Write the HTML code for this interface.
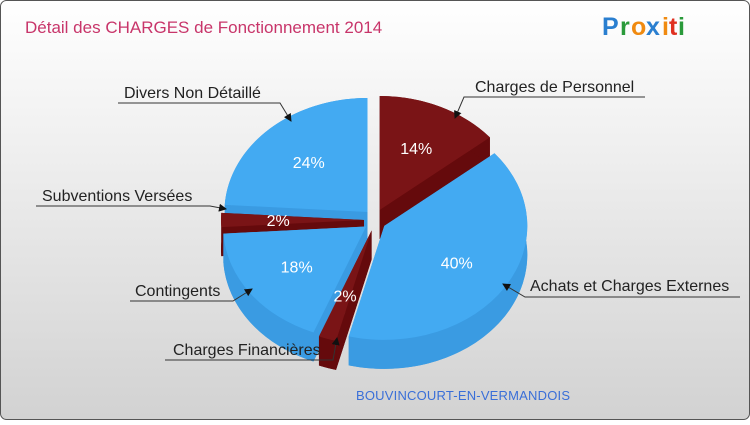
<!DOCTYPE html>
<html><head><meta charset="utf-8"><style>
body{margin:0;width:750px;height:420px;overflow:hidden;font-family:"Liberation Sans",sans-serif}
</style></head><body>
<svg id="c" width="750" height="420" viewBox="0 0 750 420">
<defs><linearGradient id="bg" x1="0" y1="0" x2="0" y2="1"><stop offset="0" stop-color="#ffffff"/><stop offset="1" stop-color="#d2d2d2"/></linearGradient>
<marker id="ar" markerWidth="8" markerHeight="8" refX="7" refY="4" orient="auto"><path d="M0,0 L8,4 L0,8z" fill="#111"/></marker></defs>
<rect x="0.5" y="0.5" width="749" height="419" rx="6" fill="url(#bg)" stroke="#555"/>
<text x="25" y="33" font-size="17" fill="#c8356a">Détail des CHARGES de Fonctionnement 2014</text>
<g font-size="25" font-weight="bold"><text x="602" y="35" fill="#2a7fd0">P</text><text x="620" y="35" fill="#2a9a3a">r</text><text x="631" y="35" fill="#f08a10">o</text><text x="646" y="35" fill="#2a7fd0">x</text><text x="662" y="35" fill="#f08a10">i</text><text x="669" y="35" fill="#e03020">t</text><text x="678" y="35" fill="#2a9a3a">i</text></g>
<g id="pie"></g><g id="lab"></g>
<text x="356" y="400" font-size="13" fill="#3a6fd8" textLength="214">BOUVINCOURT-EN-VERMANDOIS</text>
</svg>
<script>
const categories=["Charges de Personnel","Achats et Charges Externes","Charges Financières","Contingents","Subventions Versées","Divers Non Détaillé"];
const values=[14,40,2,18,2,24];
const pctLabels=["14%","40%","2%","18%","2%","24%"];
const NS="http://www.w3.org/2000/svg";
const cx=375,cy=220,rx=143,ry=114,depth=29,explode=11,offset=0;
const pie=document.getElementById('pie'),lab=document.getElementById('lab');
const total=values.reduce((a,b)=>a+b,0);
function el(t,a,p){const e=document.createElementNS(NS,t);for(const k in a)e.setAttribute(k,a[k]);p.appendChild(e);return e;}
function pt(ox,oy,a,r){return [ox+rx*r*Math.sin(a),oy-ry*r*Math.cos(a)];}
let start=offset;const slices=[];
values.forEach((v,i)=>{const sweep=v/total*2*Math.PI;const mid=start+sweep/2;slices.push({i,a0:start,a1:start+sweep,mid});start+=sweep;});
const order=slices.slice().sort((a,b)=>-Math.cos(a.mid)+Math.cos(b.mid));
order.forEach(s=>{
 const isRed=[0,2,4].includes(s.i);
 const top=isRed?"#7a1416":"#43aaf2",side=isRed?"#650a0c":"#3a9be2";
 const ox=cx+explode*Math.sin(s.mid),oy=cy-explode*Math.cos(s.mid);
 const g=el('g',{},pie);
 
 
 function arcPath(dy){const p0=pt(ox,oy+dy,s.a0,1),p1=pt(ox,oy+dy,s.a1,1);const lg=(s.a1-s.a0)>Math.PI?1:0;
  return `M${ox},${oy+dy} L${p0[0]},${p0[1]} A${rx},${ry} 0 ${lg} 1 ${p1[0]},${p1[1]} Z`;}
 el('path',{d:arcPath(depth),fill:side},g);
 [s.a0,s.a1].forEach(a=>{const p=pt(ox,oy,a,1);el('path',{d:`M${ox},${oy} L${p[0]},${p[1]} L${p[0]},${p[1]+depth} L${ox},${oy+depth}Z`,fill:side},g);});
 const n=40;const up=[];
 for(let k=0;k<=n;k++){const a=s.a0+(s.a1-s.a0)*k/n;up.push(pt(ox,oy,a,1));}
 const d="M"+up.map(p=>p[0]+","+p[1]).join(" L")+" L"+up.slice().reverse().map(p=>p[0]+","+(p[1]+depth)).join(" L")+"Z";
 el('path',{d,fill:side},g);
 el('path',{d:arcPath(0),fill:top},g);
 const lp=pt(ox,oy,s.mid,0.6);
 const t=el('text',{x:lp[0],y:lp[1]+6,'font-size':16,fill:'#fff','text-anchor':'middle'},g);t.textContent=pctLabels[s.i];
 
 
});
const callouts=[[475,92,464,97,645,455,118],[530,291,525,297,740,503,284],[124,98,118,103,280,291,121],[42,201,36,206,210,226,209],[135,296,130,301,233,252,289],[173,355,165,360,333,337,338]];
const map=[0,1,5,4,3,2];
callouts.forEach((c,j)=>{const g=el('g',{},lab);
 
 
 const t=el('text',{x:c[0],y:c[1],'font-size':16,fill:'#222'},g);t.textContent=categories[map[j]];
 const jx=j<2?c[2]:c[4];
 el('polyline',{points:`${j<2?c[4]:c[2]},${c[3]} ${jx},${c[3]} ${c[5]},${c[6]}`,fill:'none',stroke:'#333','stroke-width':1,'marker-end':'url(#ar)'},g);});
</script>
</body></html>
